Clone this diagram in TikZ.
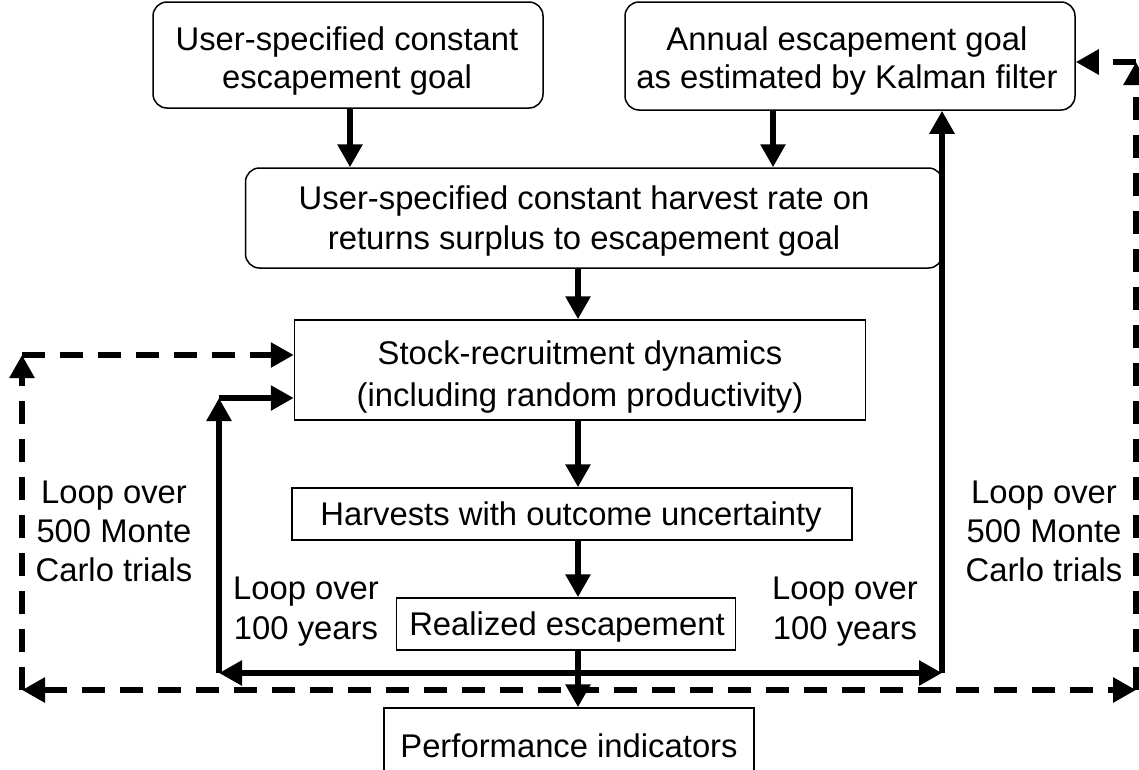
\documentclass[tikz,border=0pt]{standalone}
\usepackage{fontspec}
\setmainfont{Liberation Sans}
\usetikzlibrary{arrows.meta}
\begin{document}
\begin{tikzpicture}[x={(1pt,0)},y={(0,-1pt)},
  txt/.style={font=\fontsize{32.8}{40}\selectfont, align=center, inner sep=0pt},
  rbox/.style={draw, line width=1.5pt, rounded corners=14pt, inner sep=0pt},
  sbox/.style={draw, line width=1.5pt, inner sep=0pt},
  tip/.style={-{Triangle[length=23pt,width=24pt]}},
  arr/.style={line width=6pt, tip},
  dsh/.style={line width=6pt, dash pattern=on 23pt off 15pt, tip}]
\useasboundingbox (0,0) rectangle (1139,769);
% boxes
\node[rbox, minimum width=390pt, minimum height=106pt] (A) at (348,55) {};
\node[rbox, minimum width=450pt, minimum height=108pt] (B) at (850,56) {};
\node[rbox, minimum width=697pt, minimum height=100pt] (C) at (594,218) {};
\node[sbox, minimum width=571pt, minimum height=100pt] (D) at (580,370) {};
\node[sbox, minimum width=560pt, minimum height=52pt] (E) at (572,514) {};
\node[sbox, minimum width=339pt, minimum height=52pt] (F) at (566,624) {};
\node[sbox, minimum width=370pt, minimum height=80pt] (G) at (569,748) {};
% box texts
\node[txt, font=\fontsize{32.8}{38}\selectfont] (At) at (347,61) {User-specified constant\\escapement goal};
\node[txt, font=\fontsize{32.8}{38}\selectfont] (Bt) at (847,61) {Annual escapement goal\\as estimated by Kalman filter};
\node[txt] (Ct) at (584,221) {User-specified constant harvest rate on\\returns surplus to escapement goal};
\node[txt, font=\fontsize{32.8}{42}\selectfont] (Dt) at (580,377) {Stock-recruitment dynamics\\(including random productivity)};
\node[txt] (Et) at (571,517) {Harvests with outcome uncertainty};
\node[txt] (Ft) at (567,627) {Realized escapement};
\node[txt] (Gt) at (569,746) {Performance indicators};

\coordinate (cM) at (578,673);
\coordinate (cL) at (219,673);
\coordinate (cR) at (942,673);
\coordinate (cLt) at (219,398);
\coordinate (dL) at (22,690);
\coordinate (dR) at (1136,690);
\coordinate (dLt) at (22,355);
\coordinate (dRt) at (1136,62);
\coordinate (xA) at (350,0);
\coordinate (xB) at (773,0);

% dashed loop (Monte Carlo trials)
\draw[dsh, {Triangle[length=23pt,width=24pt]}-{Triangle[length=23pt,width=24pt]}] (dL) -- (dR);
\draw[dsh] (dL) -- (dLt);
\draw[dsh] (dLt) -- (D.west |- dLt);
\draw[dsh] (dR) -- (dRt);
\draw[dsh] (dRt) -- (B.east |- dRt);

% main flow
\draw[arr] (A.south -| xA) -- (C.north -| xA);
\draw[arr] (B.south -| xB) -- (C.north -| xB);
\draw[arr] (C.south -| cM) -- (D.north -| cM);
\draw[arr] (D.south -| cM) -- (E.north -| cM);
\draw[arr] (E.south -| cM) -- (F.north -| cM);
\draw[arr] (F.south -| cM) -- (G.north -| cM);

% solid loop (years)
\draw[arr] (cM) -- (cL);
\draw[arr] (cM) -- (cR);
\draw[arr] (cL) -- (cLt);
\draw[arr] (cLt) -- (D.west |- cLt);
\draw[arr] (cR) -- (B.south -| cR);

% labels
\node[txt, font=\fontsize{32.8}{39}\selectfont] (l1) at (114,531) {Loop over\\500 Monte\\Carlo trials};
\node[txt, font=\fontsize{32.8}{39}\selectfont] (l2) at (1044,531) {Loop over\\500 Monte\\Carlo trials};
\node[txt] (l3) at (306,612) {Loop over\\100 years};
\node[txt] (l4) at (845,612) {Loop over\\100 years};
\end{tikzpicture}
\end{document}
